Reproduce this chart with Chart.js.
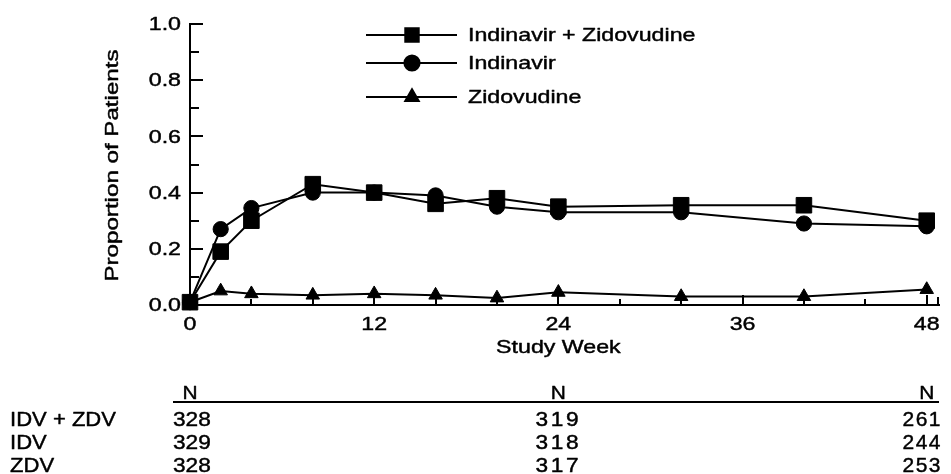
<!DOCTYPE html>
<html>
<head>
<meta charset="utf-8">
<script src="https://cdn.jsdelivr.net/npm/chart.js@4"></script>
<style>
  html, body { margin: 0; padding: 0; background: #fff; }
  #c { display: block; }
</style>
</head>
<body>
<canvas id="c" width="951" height="474"></canvas>
<script>
// ---- data ----
const weeks = [0, 2, 4, 8, 12, 16, 20, 24, 32, 40, 48];
const seriesNames = ['Indinavir + Zidovudine', 'Indinavir', 'Zidovudine'];
const idvZdv = [0.01, 0.19, 0.30, 0.43, 0.40, 0.36, 0.38, 0.35, 0.355, 0.355, 0.30];
const idv    = [0.01, 0.27, 0.345, 0.40, 0.40, 0.39, 0.35, 0.33, 0.33, 0.29, 0.28];
const zdv    = [0.01, 0.05, 0.04, 0.035, 0.04, 0.035, 0.025, 0.045, 0.03, 0.03, 0.055];

const xTickLabels = [0, 12, 24, 36, 48];
const xMinorTicks = [4, 8, 16, 20, 28, 32, 40, 44];
const yTickLabels = [0, 0.2, 0.4, 0.6, 0.8, 1.0];
const yMinorTicks = [0.1, 0.3, 0.5, 0.7, 0.9];

const xTitle = 'Study Week';
const yTitle = 'Proportion of Patients';

// N table
const tableHeader = 'N';
const tableWeeks = [0, 24, 48];
const tableRows = ['IDV + ZDV', 'IDV', 'ZDV'];
const nIdvZdv = [328, 319, 261];
const nIdv    = [329, 318, 244];
const nZdv    = [328, 317, 253];
const tableValues = [nIdvZdv, nIdv, nZdv];

// ---- helpers ----
const FONT = '"Liberation Sans", Arial, Helvetica, sans-serif';
function txt(ctx, s, x, y, o) {
  ctx.save();
  ctx.translate(x, y);
  if (o.rot) ctx.rotate(o.rot);
  ctx.scale(o.sx || 1, 1);
  ctx.font = (o.size || 17) + 'px ' + FONT;
  ctx.fillStyle = '#000';
  ctx.strokeStyle = '#000';
  ctx.lineWidth = o.sw === undefined ? 0.45 : o.sw;
  ctx.lineJoin = 'round';
  ctx.textAlign = o.align || 'left';
  ctx.textBaseline = o.base || 'alphabetic';
  if (o.ls) ctx.letterSpacing = o.ls + 'px';
  ctx.fillText(s, 0, 0);
  if (ctx.lineWidth > 0) ctx.strokeText(s, 0, 0);
  ctx.restore();
}

const markers = [
  { style: 'rect', radius: 11 },
  { style: 'circle', radius: 7.6 },
  { style: 'triangle', radius: 7.8 }
];

const seriesData = [idvZdv, idv, zdv];
const datasets = seriesData.map((vals, i) => ({
  label: seriesNames[i],
  data: weeks.map((w, k) => ({ x: w, y: vals[k] })),
  borderColor: '#000',
  backgroundColor: '#000',
  borderWidth: 2,
  pointStyle: markers[i].style,
  pointRadius: markers[i].radius,
  pointBackgroundColor: '#000',
  pointBorderColor: '#000',
  pointBorderWidth: 1,
  tension: 0,
  clip: false
}));

const decor = {
  id: 'decor',
  afterDraw(chart) {
    const ctx = chart.ctx;
    const xs = chart.scales.x, ys = chart.scales.y;
    const ca = chart.chartArea;
    ctx.save();
    ctx.strokeStyle = '#000';
    ctx.lineWidth = 2;
    // y ticks (inward)
    yTickLabels.forEach(v => {
      const p = Math.round(ys.getPixelForValue(v));
      ctx.beginPath(); ctx.moveTo(ca.left, p); ctx.lineTo(ca.left + 13, p); ctx.stroke();
    });
    yMinorTicks.forEach(v => {
      const p = Math.round(ys.getPixelForValue(v));
      ctx.beginPath(); ctx.moveTo(ca.left, p); ctx.lineTo(ca.left + 9, p); ctx.stroke();
    });
    // x ticks (inward)
    xTickLabels.forEach(v => {
      const p = Math.round(xs.getPixelForValue(v));
      ctx.beginPath(); ctx.moveTo(p, ca.bottom); ctx.lineTo(p, ca.bottom - 10); ctx.stroke();
    });
    xMinorTicks.forEach(v => {
      const p = Math.round(xs.getPixelForValue(v));
      ctx.beginPath(); ctx.moveTo(p, ca.bottom); ctx.lineTo(p, ca.bottom - 6); ctx.stroke();
    });
    ctx.beginPath(); ctx.moveTo(ca.right - 1, ca.bottom); ctx.lineTo(ca.right - 1, ca.bottom - 8); ctx.stroke();
    ctx.restore();

    // tick labels
    yTickLabels.forEach(v => {
      txt(ctx, v.toFixed(1), ca.left - 9, ys.getPixelForValue(v) + 1, { size: 19, sx: 1.22, align: 'right', base: 'middle' });
    });
    xTickLabels.forEach(v => {
      txt(ctx, String(v), xs.getPixelForValue(v), ca.bottom + 25, { size: 19, sx: 1.22, align: 'center' });
    });
    // axis titles
    txt(ctx, yTitle, 113, (ca.top + ca.bottom) / 2 + 1, { size: 19, sx: 1.27, align: 'center', base: 'middle', rot: -Math.PI / 2 });
    txt(ctx, xTitle, xs.getPixelForValue(24), ca.bottom + 48, { size: 19, sx: 1.22, align: 'center' });

    // legend
    const legY = [35, 63, 97];
    chart.data.datasets.forEach((ds, i) => {
      const y = legY[i];
      ctx.save();
      ctx.strokeStyle = '#000'; ctx.lineWidth = 2;
      ctx.beginPath(); ctx.moveTo(366, y); ctx.lineTo(457, y); ctx.stroke();
      ctx.fillStyle = '#000';
      Chart.helpers.drawPoint(ctx, { pointStyle: ds.pointStyle, radius: i === 0 ? 9.5 : ds.pointRadius, borderWidth: 1, rotation: 0 }, 412, y);
      ctx.restore();
      txt(ctx, ds.label, 468, y + 1, { size: 19, sx: 1.22, base: 'middle' });
    });

    // N table
    const hdrY = 399;
    const colX = tableWeeks.map(w => xs.getPixelForValue(w));
    colX.forEach(x => txt(ctx, tableHeader, x, hdrY, { size: 19, sx: 1.1, align: 'center' }));
    ctx.save();
    ctx.strokeStyle = '#000'; ctx.lineWidth = 2;
    ctx.beginPath(); ctx.moveTo(colX[0] - 17, 402); ctx.lineTo(ca.right, 402); ctx.stroke();
    ctx.restore();
    const rowY = [426, 449, 472];
    tableRows.forEach((lab, r) => {
      txt(ctx, lab, 10, rowY[r], { size: 21, sx: 1.05 });
      const vals = tableValues[r];
      txt(ctx, String(vals[0]), colX[0] - 17, rowY[r], { size: 21, sx: 1.08 });
      txt(ctx, String(vals[1]), colX[1], rowY[r], { size: 21, sx: 1.08, ls: 2.5, align: 'center' });
      txt(ctx, String(vals[2]), ca.right + 3, rowY[r], { size: 21, sx: 1.0, ls: 1.5, align: 'right' });
    });
  }
};

new Chart(document.getElementById('c'), {
  type: 'line',
  data: { datasets },
  options: {
    responsive: false,
    animation: false,
    devicePixelRatio: 1,
    layout: { padding: { left: 190, right: 11, top: 24, bottom: 169 } },
    plugins: { legend: { display: false }, tooltip: { enabled: false } },
    scales: {
      x: {
        type: 'linear', min: 0, max: 48.8,
        grid: { display: false },
        border: { display: true, color: '#000', width: 2 },
        ticks: { display: false },
        afterFit(s) { s.height = 0; }
      },
      y: {
        type: 'linear', min: 0, max: 1,
        grid: { display: false },
        border: { display: true, color: '#000', width: 2 },
        ticks: { display: false },
        afterFit(s) { s.width = 0; }
      }
    }
  },
  plugins: [decor]
});
</script>
</body>
</html>
